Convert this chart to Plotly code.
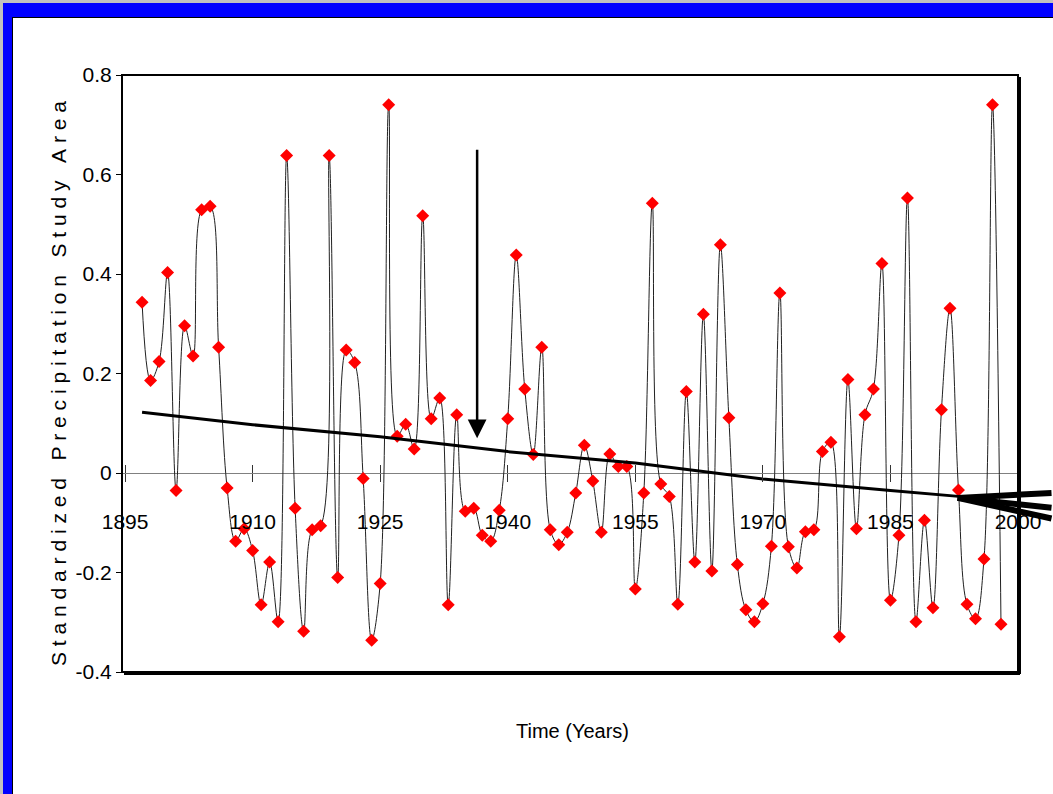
import plotly.graph_objects as go

# ---------------- data ----------------
years = list(range(1897, 1999))
precip = [0.343, 0.186, 0.224, 0.403, -0.035, 0.296, 0.235, 0.529, 0.536, 0.253,
          -0.030, -0.137, -0.112, -0.156, -0.265, -0.179, -0.299, 0.638, -0.071, -0.318,
          -0.114, -0.106, 0.638, -0.210, 0.247, 0.222, -0.011, -0.336, -0.222, 0.740,
          0.074, 0.098, 0.048, 0.517, 0.109, 0.151, -0.265, 0.117, -0.077, -0.071,
          -0.125, -0.137, -0.075, 0.109, 0.438, 0.169, 0.037, 0.253, -0.114, -0.144,
          -0.119, -0.040, 0.056, -0.016, -0.119, 0.038, 0.013, 0.013, -0.233, -0.040,
          0.542, -0.022, -0.047, -0.264, 0.164, -0.179, 0.319, -0.197, 0.459, 0.111,
          -0.184, -0.275, -0.299, -0.263, -0.147, 0.362, -0.148, -0.191, -0.118, -0.114,
          0.043, 0.062, -0.329, 0.188, -0.112, 0.117, 0.169, 0.421, -0.256, -0.125,
          0.553, -0.299, -0.095, -0.271, 0.127, 0.331, -0.034, -0.264, -0.293, -0.173,
          0.740, -0.304]

trend_years = [1897, 1910, 1925, 1940, 1955, 1970, 1985, 1993]
trend_vals = [0.122, 0.097, 0.073, 0.043, 0.020, -0.012, -0.035, -0.047]

x_ticks = [1895, 1910, 1925, 1940, 1955, 1970, 1985, 2000]
y_ticks = [-0.4, -0.2, 0, 0.2, 0.4, 0.6, 0.8]
y_ticktext = ["-0.4", "-0.2", "0", "0.2", "0.4", "0.6", "0.8"]

y_title_words = ["Standardized", "Precipitation", "Study", "Area"]
x_title = "Time (Years)"

# ---------------- figure ----------------
W, H = 1053, 794
L, R, T, B = 122, 35, 75, 122
pw, ph = W - L - R, H - T - B


def px_x(px):
    return (px - L) / pw


def px_y(py):
    return (H - B - py) / ph


SANS = "Liberation Sans, Arial, sans-serif"

fig = go.Figure()

fig.add_trace(go.Scatter(
    x=years, y=precip, mode="lines",
    line=dict(color="#202020", width=1, shape="spline", smoothing=1.0),
    hoverinfo="skip", showlegend=False))

fig.add_trace(go.Scatter(
    x=years, y=precip, mode="markers",
    marker=dict(symbol="diamond", size=10, color="#ff0000", line=dict(width=0)),
    showlegend=False))

fig.add_trace(go.Scatter(
    x=trend_years, y=trend_vals, mode="lines", xaxis="x2",
    line=dict(color="black", width=3),
    showlegend=False))

xr = [1894.64, 2000.0]
zero_pos = (0 - (-0.4)) / 1.2

fig.update_layout(
    width=W, height=H,
    margin=dict(l=L, r=R, t=T, b=B, pad=0),
    paper_bgcolor="white", plot_bgcolor="white",
    showlegend=False,
    xaxis=dict(
        range=xr, anchor="free", position=zero_pos,
        showgrid=False, zeroline=False, showline=False,
        tickmode="array", tickvals=x_ticks, ticktext=[str(v) for v in x_ticks],
        ticks="outside", ticklen=8, tickwidth=1, tickcolor="#333333",
        ticklabelstandoff=22,
        tickfont=dict(family=SANS, size=21, color="black"),
    ),
    xaxis2=dict(
        range=xr, overlaying="x", anchor="free", position=zero_pos,
        showgrid=False, zeroline=False, showline=False,
        tickmode="array", tickvals=x_ticks, showticklabels=False,
        ticks="inside", ticklen=8, tickwidth=1, tickcolor="#333333",
    ),
    yaxis=dict(
        range=[-0.4, 0.8], anchor="free", position=0,
        showgrid=False, showline=False,
        zeroline=True, zerolinecolor="#808080", zerolinewidth=1,
        tickmode="array", tickvals=y_ticks, ticktext=y_ticktext,
        ticks="outside", ticklen=6, tickwidth=1, tickcolor="black",
        tickfont=dict(family=SANS, size=21, color="black"),
    ),
)

sp = "\u00a0"
y_title = (sp * 3).join(sp.join(w) for w in y_title_words)

fig.add_annotation(
    text=y_title, xref="paper", yref="paper",
    x=px_x(58), y=px_y(384), textangle=-90, showarrow=False,
    xanchor="center", yanchor="middle",
    font=dict(family=SANS, size=21, color="black"))

fig.add_annotation(
    text=x_title, xref="paper", yref="paper",
    x=px_x(572), y=px_y(731), showarrow=False,
    xanchor="center", yanchor="middle",
    font=dict(family=SANS, size=20, color="black"))

# vertical arrow
fig.add_annotation(
    x=1936.4, y=0.070, ax=1936.4, ay=0.653, xref="x", yref="y",
    axref="x", ayref="y", text="", showarrow=True,
    arrowhead=2, arrowsize=1.5, arrowwidth=2.5, arrowcolor="black")

# three thick lines converging at the 1993 point
for dy in (-5, 10, 21):
    fig.add_annotation(
        x=1992.9, y=-0.050, xref="x", yref="y", ax=96, ay=dy,
        text="", showarrow=True, arrowhead=0, arrowwidth=6, arrowcolor="black")

shapes = []
# plot frame + shadow
shapes.append(dict(type="rect", xref="paper", yref="paper", x0=0, x1=1, y0=0, y1=1,
                   line=dict(color="black", width=2), layer="above"))
shapes.append(dict(type="line", xref="paper", yref="paper",
                   x0=px_x(124), x1=px_x(1020), y0=px_y(674), y1=px_y(674),
                   line=dict(color="black", width=2), layer="above"))
shapes.append(dict(type="line", xref="paper", yref="paper",
                   x0=px_x(1020), x1=px_x(1020), y0=px_y(77), y1=px_y(674),
                   line=dict(color="black", width=2), layer="above"))
# slide frame: gray edge, blue band, dark inner line
shapes.append(dict(type="rect", xref="paper", yref="paper",
                   x0=px_x(0), x1=px_x(3), y0=px_y(H), y1=px_y(0),
                   fillcolor="#c0c0c0", line=dict(width=0), layer="above"))
shapes.append(dict(type="rect", xref="paper", yref="paper",
                   x0=px_x(0), x1=px_x(W), y0=px_y(3), y1=px_y(0),
                   fillcolor="#c0c0c0", line=dict(width=0), layer="above"))
shapes.append(dict(type="rect", xref="paper", yref="paper",
                   x0=px_x(3), x1=px_x(12), y0=px_y(H), y1=px_y(3),
                   fillcolor="#0000ff", line=dict(width=0), layer="above"))
shapes.append(dict(type="rect", xref="paper", yref="paper",
                   x0=px_x(3), x1=px_x(W), y0=px_y(17), y1=px_y(3),
                   fillcolor="#0000ff", line=dict(width=0), layer="above"))
shapes.append(dict(type="line", xref="paper", yref="paper",
                   x0=px_x(12), x1=px_x(W), y0=px_y(17.5), y1=px_y(17.5),
                   line=dict(color="black", width=1), layer="above"))
shapes.append(dict(type="line", xref="paper", yref="paper",
                   x0=px_x(12.5), x1=px_x(12.5), y0=px_y(H), y1=px_y(17),
                   line=dict(color="black", width=1), layer="above"))
fig.update_layout(shapes=shapes)

fig.write_html("out.html", config={"displayModeBar": False},
               post_script="document.body.style.margin='0';")
